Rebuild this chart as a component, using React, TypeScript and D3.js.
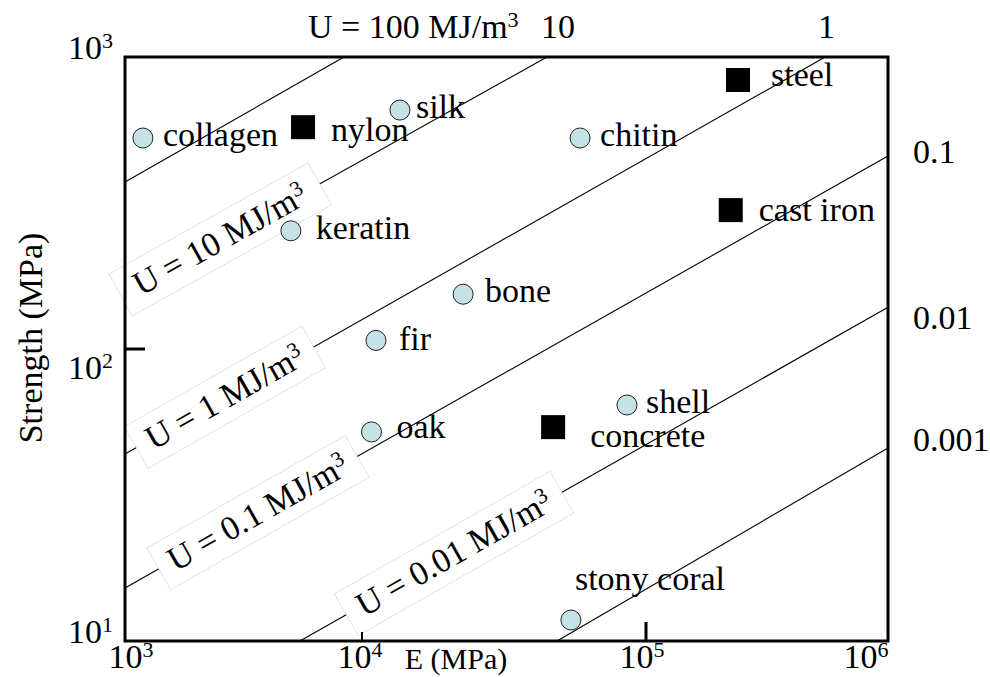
import React from "react";
import * as d3 from "d3";

// materials: modulus E (MPa) and strength (MPa)
const materials = ["collagen", "nylon", "silk", "chitin", "steel", "cast iron", "keratin", "bone", "fir", "shell", "oak", "concrete", "stony coral"];
const modulus = [1190, 5640, 13600, 58600, 240000, 224000, 5010, 22700, 11200, 85700, 10800, 47100, 54400];
const strength = [528, 575, 658, 528, 834, 299, 254, 154, 107, 64.3, 52, 54, 11.8];
const manMade = ["nylon", "steel", "cast iron", "concrete"];

// lines of constant strain energy U (MJ/m3), ends
const energyU = [100, 10, 1, 0.1, 0.01, 0.001];
const lineStartE = [1e3, 1e3, 1e3, 1e3, 5470, 48600];
const lineStartS = [373, 156, 43.7, 15.2, 10, 10];
const lineEndE = [8400, 44800, 550000, 1e6, 1e6, 1e6];
const lineEndS = [1000, 1000, 1000, 458, 139, 45.8];

const xTicks = [1e3, 1e4, 1e5, 1e6];
const yTicks = [10, 100, 1000];

// layout only
const W = 990;
const H = 677;
const FONT = "'Liberation Serif', 'Times New Roman', serif";
const FS = 34;
const xTickShift = [6, -2, -4, -22];
const labelOffset: Record<string, [number, number]> = {
  collagen: [20, 8],
  nylon: [28, 14],
  silk: [16, 8],
  chitin: [20, 8],
  steel: [33, 6],
  "cast iron": [28, 11],
  keratin: [25, 8],
  bone: [22, 8],
  fir: [23, 10],
  shell: [19, 8],
  oak: [25, 6],
  concrete: [37, 20],
  "stony coral": [4, -30],
};
// rotated boxes on the lines: [U, E at centre, box width]
const boxLabels: [number, number, number][] = [
  [10, 2520, 228],
  [1, 2640, 204],
  [0.1, 3640, 228],
  [0.01, 21100, 248],
];
// U values written at the top / right edge
const topLabels: [string, number, number][] = [
  ["U = 100 MJ/m", 308, 38],
  ["10", 541, 38],
  ["1", 818, 38],
];
const rightLabels: [string, number][] = [
  ["0.1", 163],
  ["0.01", 329],
  ["0.001", 451],
];

const x = d3.scaleLog().domain(xTicks).range([125, 362, 646, 888]);
const y = d3.scaleLog().domain([10, 1000]).range([641, 57]);

const Pow = ({ exp }: { exp: number }) => (
  <>
    10
    <tspan fontSize={22} dy={-11}>
      {exp}
    </tspan>
  </>
);

export default function App() {
  const lines = energyU.map((u, i) => {
    const x0 = x(lineStartE[i]), y0 = y(lineStartS[i]);
    const x1 = x(lineEndE[i]), y1 = y(lineEndS[i]);
    return { u, x0, y0, x1, y1 };
  });
  const lineGen = d3.line();

  return (
    <svg width={W} height={H} style={{ position: "absolute", left: 0, top: 0, background: "#fff" }} fontFamily={FONT}>
      <rect width={W} height={H} fill="#fff" />

      {/* energy lines */}
      {lines.map((l) => (
        <path
          key={l.u}
          d={lineGen([[l.x0, l.y0], [l.x1, l.y1]]) ?? ""}
          stroke="#000"
          strokeWidth={1.1}
          fill="none"
        />
      ))}

      {/* boxed labels along lines */}
      {boxLabels.map(([u, e, w]) => {
        const l = lines.find((d) => d.u === u)!;
        const px = x(e);
        const t = (px - l.x0) / (l.x1 - l.x0);
        const py = l.y0 + t * (l.y1 - l.y0);
        const ang = (Math.atan2(l.y1 - l.y0, l.x1 - l.x0) * 180) / Math.PI;
        return (
          <g key={u} transform={`translate(${px},${py}) rotate(${ang})`}>
            <rect x={-w / 2} y={-24} width={w} height={48} fill="#fff" stroke="#c8c8c8" strokeWidth={0.8} strokeDasharray="1.5 1" />
            <text textAnchor="middle" y={11} fontSize={FS}>
              U = {u} MJ/m
              <tspan fontSize={22} dy={-11}>3</tspan>
            </text>
          </g>
        );
      })}

      {/* materials */}
      {materials.map((m, i) => {
        const cx = x(modulus[i]);
        const cy = y(strength[i]);
        const [dx, dy] = labelOffset[m];
        return (
          <g key={m}>
            {manMade.includes(m) ? (
              <rect x={cx - 12} y={cy - 12} width={24} height={24} fill="#000" />
            ) : (
              <circle cx={cx} cy={cy} r={10} fill="#c5e2e6" stroke="#222" strokeWidth={1} />
            )}
            <text x={cx + dx} y={cy + dy} fontSize={FS}>
              {m}
            </text>
          </g>
        );
      })}

      {/* frame */}
      <rect x={x(1e3)} y={y(1000)} width={x(1e6) - x(1e3)} height={y(10) - y(1000)} fill="none" stroke="#000" strokeWidth={3} />

      {/* ticks */}
      <line x1={x(1e3)} x2={x(1e3) + 20} y1={y(100)} y2={y(100)} stroke="#000" strokeWidth={3} />
      <line x1={x(1e4)} x2={x(1e4)} y1={y(10)} y2={y(10) - 9} stroke="#000" strokeWidth={2} />
      <line x1={x(1e5)} x2={x(1e5)} y1={y(10)} y2={y(10) - 19} stroke="#000" strokeWidth={3} />

      {/* y tick labels */}
      {yTicks.map((v) => (
        <text key={v} x={x(1e3) - 12} y={y(v) + (v === 100 ? 30 : 2)} textAnchor="end" fontSize={FS}>
          <Pow exp={Math.round(Math.log10(v))} />
        </text>
      ))}

      {/* x tick labels */}
      {xTicks.map((v, i) => (
        <text key={v} x={x(v) + xTickShift[i]} y={668} textAnchor="middle" fontSize={FS}>
          <Pow exp={Math.round(Math.log10(v))} />
        </text>
      ))}

      {/* top and right U labels */}
      {topLabels.map(([s, tx, ty], i) => (
        <text key={s} x={tx} y={ty} fontSize={FS}>
          {s}
          {i === 0 && <tspan fontSize={22} dy={-11}>3</tspan>}
        </text>
      ))}
      {rightLabels.map(([s, ty]) => (
        <text key={s} x={913} y={ty} fontSize={FS}>
          {s}
        </text>
      ))}

      {/* axis titles */}
      <text x={456} y={669} textAnchor="middle" fontSize={30}>
        E (MPa)
      </text>
      <text transform="translate(42,338) rotate(-90)" textAnchor="middle" fontSize={FS}>
        Strength (MPa)
      </text>
    </svg>
  );
}
